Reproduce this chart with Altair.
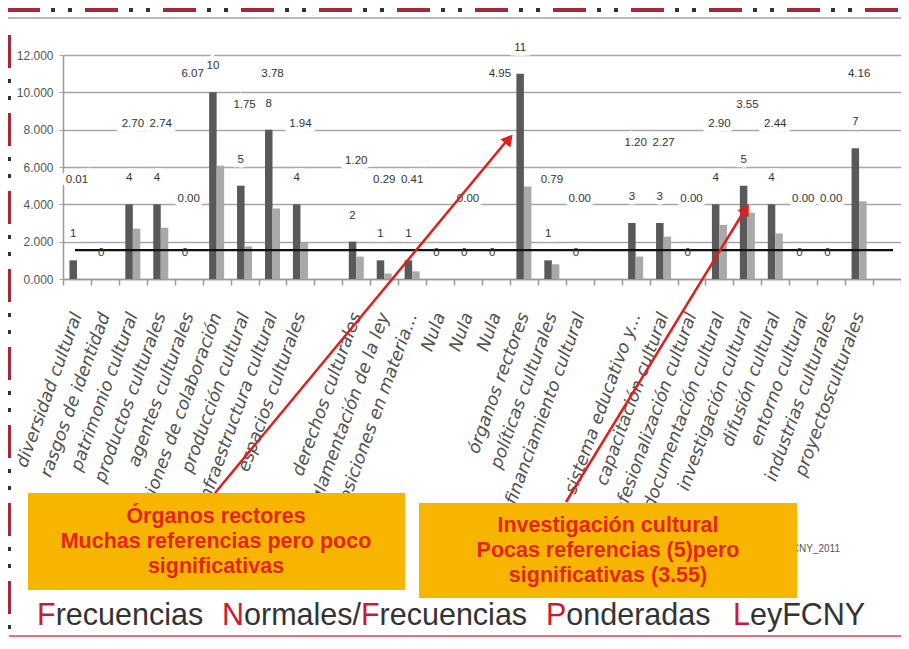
import json
import altair as alt
import pandas as pd

# ---------------- data ----------------
categorias = [
    "diversidad cultural", "rasgos de identidad", "patrimonio cultural",
    "productos culturales", "agentes culturales", "acciones de colaboración",
    "producción cultural", "infraestructura cultural", "espacios culturales", "",
    "derechos culturales", "reglamentación de la ley", "disposiciones en materia...",
    "Nula", "Nula", "Nula", "órganos rectores", "políticas culturales",
    "financiamiento cultural", "", "sistema educativo y...", "capacitación cultural",
    "profesionalización cultural", "documentación cultural", "investigación cultural",
    "difusión cultural", "entorno cultural", "industrias culturales",
    "proyectosculturales", "",
]
frec_normales = [1, 0, 4, 4, 0, 10, 5, 8, 4, None, 2, 1, 1, 0, 0, 0, 11, 1, 0, None,
                 3, 3, 0, 4, 5, 4, 0, 0, 7, None]
frec_ponderadas = [0.01, None, 2.70, 2.74, 0.00, 6.07, 1.75, 3.78, 1.94, None, 1.20, 0.29,
                   0.41, None, 0.00, None, 4.95, 0.79, 0.00, None, 1.20, 2.27, 0.00, 2.90,
                   3.55, 2.44, 0.00, 0.00, 4.16, None]
umbral = 1.55
ticks_y = [0, 2, 4, 6, 8, 10, 12]
series = ["Normales", "Ponderadas"]

# ---------------- tables ----------------
idx = list(range(len(categorias)))
rows = []
for i, n, p in zip(idx, frec_normales, frec_ponderadas):
    if n is not None:
        rows.append({"idx": i, "serie": "Normales", "valor": n})
    if p is not None:
        rows.append({"idx": i, "serie": "Ponderadas", "valor": p})
bars_df = pd.DataFrame(rows)
lab_df = pd.DataFrame({"idx": idx, "normal": frec_normales, "ponderada": frec_ponderadas})

W, H = 838, 224
NUMFONT = "Liberation Sans"

xscale = alt.Scale(domain=idx, paddingInner=0, paddingOuter=0)
xoff_scale = alt.Scale(domain=series, paddingOuter=0.86, paddingInner=0)
yscale = alt.Scale(domain=[0, 12], nice=False)

label_expr = json.dumps(categorias, ensure_ascii=False) + "[datum.value]"
x_axis = alt.Axis(
    title=None, labelExpr=label_expr, labelAngle=290, labelAlign="right",
    labelBaseline="middle", labelPadding=28, labelFont="DejaVu Sans",
    labelFontStyle="italic", labelFontSize=17.5, labelColor="#505050",
    tickBand="extent", tickSize=6, tickColor="#9a9a9a", tickWidth=1.5,
    domainColor="#9a9a9a", domainWidth=1.5, grid=False, labelOverlap=False,
    labelLimit=400,
)
y_axis = alt.Axis(
    title=None, values=ticks_y, format=".3f", grid=True, gridColor="#a8a8a8",
    gridWidth=1.6, domainColor="#9a9a9a", domainWidth=1.5, tickSize=4,
    tickColor="#a8a8a8", labelFont=NUMFONT, labelFontSize=12, labelColor="#555555",
    labelPadding=6,
)

X = alt.X("idx:O", scale=xscale, axis=x_axis)
Y = alt.Y("y:Q", scale=yscale, axis=y_axis)
XO = alt.XOffset("serie:N", scale=xoff_scale)

bars = alt.Chart(bars_df).mark_bar().encode(
    x=X, xOffset=XO,
    y=alt.Y("valor:Q", scale=yscale, axis=y_axis),
    color=alt.Color("serie:N", scale=alt.Scale(domain=series, range=["#595959", "#a9a9a9"]),
                    legend=None),
)

ints = alt.Chart(lab_df).transform_filter("isValid(datum.normal)").transform_calculate(
    serie="'Normales'", y="datum.normal")
decs = alt.Chart(lab_df).transform_filter("isValid(datum.ponderada)").transform_calculate(
    y="min(datum.normal + 4.3, 11)")

txt_style = dict(font=NUMFONT, fontSize=11.5, baseline="middle")


def dec_layers(halo):
    extra = dict(fill="white", stroke="white", strokeWidth=9) if halo else dict(color="#333333")
    a = decs.transform_filter("datum.normal < 9.5").mark_text(**txt_style, **extra).encode(
        x=X, y=Y, text=alt.Text("ponderada:Q", format=".2f"))
    b = decs.transform_filter("datum.normal >= 9.5").mark_text(dx=-24, **txt_style, **extra).encode(
        x=X, y=Y, text=alt.Text("ponderada:Q", format=".2f"))
    return [a, b]


int_halo = ints.mark_text(dy=-26, fill="white", stroke="white", strokeWidth=9, **txt_style).encode(
    x=X, xOffset=XO, y=Y, text=alt.Text("normal:Q", format="d"))
int_text = ints.mark_text(dy=-26, color="#333333", **txt_style).encode(
    x=X, xOffset=XO, y=Y, text=alt.Text("normal:Q", format="d"))

umbral_rule = alt.Chart(pd.DataFrame({"u": [umbral]})).mark_rule(
    color="#111111", strokeWidth=2.2).encode(
    y=alt.Y("u:Q", scale=yscale, axis=y_axis), x=alt.value(12), x2=alt.value(W - 8))

one = alt.Data(values=[{}])


def rule(x, y, x2=None, y2=None, **kw):
    enc = dict(x=alt.value(x), y=alt.value(y))
    if x2 is not None:
        enc["x2"] = alt.value(x2)
    if y2 is not None:
        enc["y2"] = alt.value(y2)
    return alt.Chart(one).mark_rule(**kw).encode(**enc)


def box(x, y, x2, y2, color):
    return alt.Chart(one).mark_rect(color=color).encode(
        x=alt.value(x), y=alt.value(y), x2=alt.value(x2), y2=alt.value(y2))


def text(x, y, t, **kw):
    return alt.Chart(one).mark_text(**kw).encode(x=alt.value(x), y=alt.value(y), text=alt.value(t))


# frame
RED_DARK = "#a3283a"
frame = [
    rule(-56, -45, x2=W + 10, color=RED_DARK, strokeWidth=4, strokeDash=[33, 45]),
    rule(-56, -45, x2=W + 10, color="#333333", strokeWidth=4, strokeDash=[4, 13, 4, 57], strokeDashOffset=34),
    rule(-56, -37, x2=W + 10, color="#a0a0a0", strokeWidth=1.5),
    rule(-54, -20, y2=H + 356, color=RED_DARK, strokeWidth=4, strokeDash=[33, 45]),
    rule(-54, -20, y2=H + 356, color="#333333", strokeWidth=4, strokeDash=[4, 13, 4, 57], strokeDashOffset=34),
    rule(-54, H + 357, x2=W + 10, color="#e8707c", strokeWidth=2),
]

nota = text(777, 494, "LeyFCNY_2011", align="right", baseline="middle", font=NUMFONT,
            fontSize=10, color="#555555")

# annotation boxes
ORANGE = "#f7b500"
BOXRED = "#e3261c"
bfont = dict(font="Liberation Sans", fontWeight="bold", fontSize=21.5, color=BOXRED,
             align="center", baseline="middle")
box1 = [box(-35, 438, 342, 535, ORANGE),
        text(153, 462, "Órganos rectores", **bfont),
        text(153, 487, "Muchas referencias pero poco", **bfont),
        text(153, 512, "significativas", **bfont)]
box2 = [box(356, 448, 734, 543, ORANGE),
        text(545, 471, "Investigación  cultural", **bfont),
        text(545, 496, "Pocas referencias (5)pero", **bfont),
        text(545, 521, "significativas (3.55)", **bfont)]

# arrows
ARROW = "#e01e1e"
arrows = [
    rule(152, 438, x2=446, y2=83, color=ARROW, strokeWidth=2.5),
    alt.Chart(one).mark_point(shape="triangle-up", filled=True, color=ARROW, opacity=1,
                              size=170, angle=39.6).encode(x=alt.value(446), y=alt.value(84)),
    rule(503, 447, x2=683, y2=153, color=ARROW, strokeWidth=2.5),
    alt.Chart(one).mark_point(shape="triangle-up", filled=True, color=ARROW, opacity=1,
                              size=170, angle=31.5).encode(x=alt.value(683), y=alt.value(154)),
]

# footer title with red initials (Liberation Sans = Arial metrics)
adv = {"F": 0.611, "N": 0.722, "P": 0.667, "L": 0.556, "o": 0.556, "r": 0.333, "m": 0.833,
       "a": 0.556, "l": 0.222, "e": 0.556, "s": 0.500, "/": 0.278}
FS = 30.5
TRED, TGRAY = "#cc1b2e", "#333333"
palabras = [(-26, [("F", TRED), ("recuencias", TGRAY)]),
            (159, [("N", TRED), ("ormales/", TGRAY), ("F", TRED), ("recuencias", TGRAY)]),
            (483, [("P", TRED), ("onderadas", TGRAY)]),
            (670, [("L", TRED), ("eyFCNY", TGRAY)])]
footer = []
for x0, segs in palabras:
    x = x0
    for s, c in segs:
        footer.append(text(x, 570, s, align="left", baseline="alphabetic",
                           font="Liberation Sans", fontSize=FS, color=c))
        x += sum(adv.get(ch, 0.55) for ch in s) * FS

layers = [bars.mark_bar(opacity=0)] + [int_halo] + dec_layers(True) + [bars, umbral_rule, int_text] \
    + dec_layers(False) + frame + [nota] + box1 + box2 + arrows + footer

chart = alt.layer(*layers).properties(
    width=W, height=H,
    autosize=alt.AutoSizeParams(type="none"),
    padding={"left": 55, "top": 47, "right": 0, "bottom": 359},
    background="white",
).configure_view(strokeWidth=0)

chart.save("out.html", embed_options={"renderer": "svg", "actions": False})
